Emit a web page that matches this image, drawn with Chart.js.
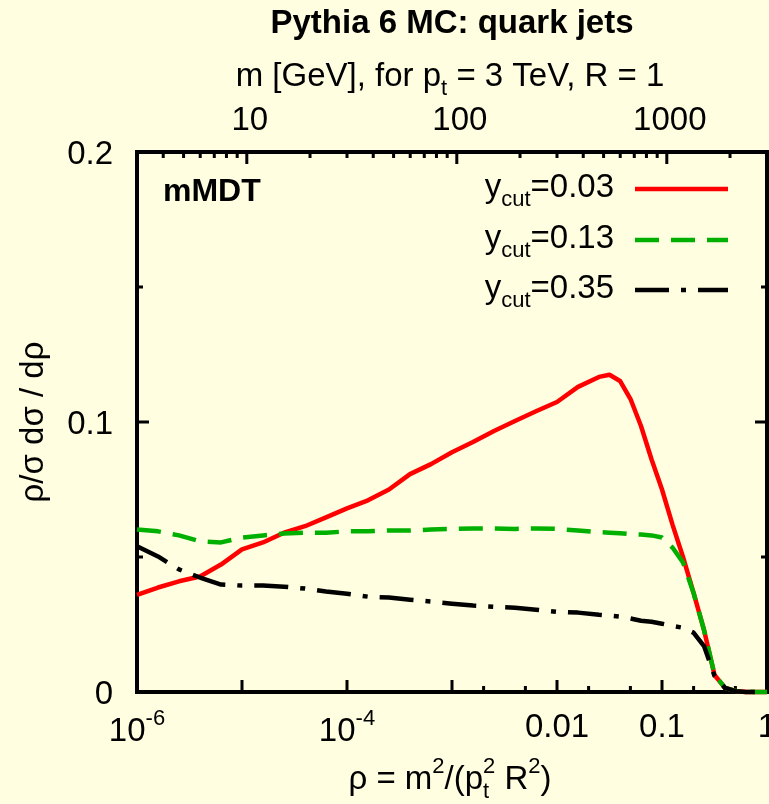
<!DOCTYPE html>
<html>
<head>
<meta charset="utf-8">
<script src="https://cdn.jsdelivr.net/npm/chart.js@4.4.0/dist/chart.umd.min.js"></script>
<style>
  html, body { margin: 0; padding: 0; background: #fffee0; }
  canvas { display: block; }
</style>
</head>
<body>
<canvas id="myChart" width="769" height="804"></canvas>
<script>
// log10(rho) sampling points
const logRho = [-6, -5.8, -5.6, -5.4, -5.2, -5, -4.8, -4.6, -4.4, -4.2, -4, -3.8, -3.6, -3.4, -3.2, -3,
  -2.8, -2.6, -2.4, -2.2, -2, -1.8, -1.6, -1.5, -1.4, -1.3, -1.2, -1.1, -1, -0.9, -0.8, -0.7, -0.6,
  -0.5, -0.4, -0.3, -0.2, -0.1, 0];

// rho/sigma dsigma/drho for each y_cut
const ycut003 = [0.036, 0.0387, 0.041, 0.0428, 0.0472, 0.0528, 0.0554, 0.059, 0.0614, 0.0647, 0.068,
  0.071, 0.075, 0.0807, 0.0844, 0.0888, 0.0926, 0.0967, 0.1004, 0.104, 0.1074, 0.113, 0.1167, 0.1175,
  0.1152, 0.1085, 0.0985, 0.0862, 0.075, 0.062, 0.05, 0.0368, 0.023, 0.0063, 0.0015, 0.0004, 0, 0, 0];
const ycut013 = [0.0602, 0.0595, 0.058, 0.0558, 0.0554, 0.0572, 0.058, 0.0587, 0.059, 0.059, 0.0595,
  0.0595, 0.0598, 0.0598, 0.0602, 0.0604, 0.0606, 0.0606, 0.0604, 0.0606, 0.0604, 0.0598, 0.0592, 0.059,
  0.0588, 0.0585, 0.0583, 0.058, 0.0572, 0.0535, 0.048, 0.0368, 0.023, 0.0065, 0.0015, 0.0004, 0.0001, 0, 0];
const ycut035 = [0.054, 0.0502, 0.0454, 0.0424, 0.0398, 0.0394, 0.0394, 0.039, 0.0383, 0.0372, 0.0364,
  0.0353, 0.035, 0.0342, 0.0335, 0.0327, 0.032, 0.0316, 0.0312, 0.0305, 0.0297, 0.0294, 0.0286, 0.0283,
  0.0279, 0.0272, 0.0264, 0.026, 0.0253, 0.0245, 0.0238, 0.022, 0.017, 0.006, 0.0015, 0.0003, 0, 0, 0];

const ycutLabels = ['0.03', '0.13', '0.35'];

// tick values
const rhoMajor = [1e-6, 1e-5, 1e-4, 1e-3, 1e-2, 1e-1, 1];
const rhoMinor = [2e-3, 5e-3, 2e-2, 5e-2, 0.2, 0.5];
const rhoLabels = [[1e-6, '10', '-6'], [1e-4, '10', '-4'], [0.01, '0.01'], [0.1, '0.1'], [1, '1']];
const massMajor = [10, 100, 1000];
const massMinor = [4, 5, 6, 7, 8, 9, 20, 30, 40, 50, 60, 70, 80, 90, 200, 300, 400, 500, 600, 700, 800, 900, 2000];
const yMajor = [0, 0.1, 0.2];
const yMinor = [0.05, 0.15];

const BG = '#fffee0';
const FONT = '"Liberation Sans", Arial, sans-serif';
const FS = 33;

function toPoints(vals) {
  return vals.map((v, i) => ({ x: Math.pow(10, logRho[i]), y: v }));
}

// draw text made of pieces with sub/superscripts
function richText(ctx, parts, x, y, size, align, bold) {
  const w = bold ? 'bold ' : '';
  const big = w + size + 'px ' + FONT;
  const small = w + Math.round(size * 0.68) + 'px ' + FONT;
  let total = 0;
  const widths = parts.map(p => {
    let pw = 0;
    if (p.t) { ctx.font = big; pw = ctx.measureText(p.t).width; }
    else {
      ctx.font = small;
      pw = Math.max(p.sub ? ctx.measureText(p.sub).width : 0, p.sup ? ctx.measureText(p.sup).width : 0);
    }
    total += pw;
    return pw;
  });
  let cx = x;
  if (align === 'center') cx = x - total / 2;
  if (align === 'right') cx = x - total;
  ctx.textAlign = 'left';
  ctx.textBaseline = 'alphabetic';
  parts.forEach((p, i) => {
    if (p.t) { ctx.font = big; ctx.fillText(p.t, cx, y); }
    else {
      ctx.font = small;
      if (p.sub) ctx.fillText(p.sub, cx, y + size * 0.26);
      if (p.sup) ctx.fillText(p.sup, cx, y - size * 0.5);
    }
    cx += widths[i];
  });
}

const frame = {
  id: 'frame',
  beforeDraw(chart) {
    const ctx = chart.ctx;
    ctx.save();
    ctx.fillStyle = BG;
    ctx.fillRect(0, 0, chart.width, chart.height);
    ctx.restore();
  },
  beforeDatasetsDraw(chart) {
    const { ctx, chartArea: a, scales } = chart;
    const x = scales.x, xm = scales.xm, y = scales.y;
    ctx.save();
    ctx.strokeStyle = '#000';
    ctx.lineWidth = 3;
    ctx.lineCap = 'butt';
    ctx.beginPath();
    rhoMajor.forEach(v => { const p = x.getPixelForValue(v); ctx.moveTo(p, a.bottom); ctx.lineTo(p, a.bottom - 12); });
    rhoMinor.forEach(v => { const p = x.getPixelForValue(v); ctx.moveTo(p, a.bottom); ctx.lineTo(p, a.bottom - 6); });
    massMajor.forEach(v => { const p = xm.getPixelForValue(v); ctx.moveTo(p, a.top); ctx.lineTo(p, a.top + 12); });
    massMinor.forEach(v => { const p = xm.getPixelForValue(v); ctx.moveTo(p, a.top); ctx.lineTo(p, a.top + 6); });
    yMajor.forEach(v => {
      const p = y.getPixelForValue(v);
      ctx.moveTo(a.left, p); ctx.lineTo(a.left + 12, p);
      ctx.moveTo(a.right, p); ctx.lineTo(a.right - 12, p);
    });
    yMinor.forEach(v => {
      const p = y.getPixelForValue(v);
      ctx.moveTo(a.left, p); ctx.lineTo(a.left + 6, p);
      ctx.moveTo(a.right, p); ctx.lineTo(a.right - 6, p);
    });
    ctx.stroke();
    ctx.lineWidth = 4;
    ctx.strokeRect(a.left, a.top, a.right - a.left, a.bottom - a.top);

    // tick labels
    ctx.fillStyle = '#000';
    rhoLabels.forEach(l => {
      const p = x.getPixelForValue(l[0]);
      if (l.length === 3) richText(ctx, [{ t: l[1] }, { sup: l[2] }], p, a.bottom + 49, FS, 'center');
      else richText(ctx, [{ t: l[1] }], p, a.bottom + 45, FS, 'center');
    });
    massMajor.forEach(v => {
      richText(ctx, [{ t: String(v) }], xm.getPixelForValue(v) + 3, a.top - 22, FS, 'center');
    });
    yMajor.forEach(v => {
      richText(ctx, [{ t: String(v) }], a.left - 24, y.getPixelForValue(v) + 12, FS, 'right');
    });

    // titles
    richText(ctx, [{ t: 'Pythia 6 MC: quark jets' }], 452, 33, FS, 'center', true);
    richText(ctx, [{ t: 'm [GeV], for p' }, { sub: 't' }, { t: ' = 3 TeV, R = 1' }], 450, 86, FS, 'center');
    richText(ctx, [{ t: 'ρ = m' }, { sup: '2' }, { t: '/(p' }, { sub: 't', sup: '2' }, { t: ' R' }, { sup: '2' }, { t: ')' }],
      450, 789, FS, 'center');
    ctx.save();
    ctx.translate(43, 422);
    ctx.rotate(-Math.PI / 2);
    richText(ctx, [{ t: 'ρ/σ dσ / dρ' }], 0, 0, FS, 'center');
    ctx.restore();
    ctx.restore();
  },
  afterDatasetsDraw(chart) {
    const ctx = chart.ctx;
    ctx.save();
    ctx.fillStyle = '#000';
    richText(ctx, [{ t: 'mMDT' }], 163, 201, 32, 'left', true);
    const rows = [189, 240, 290];
    chart.data.datasets.forEach((ds, i) => {
      const yy = rows[i];
      richText(ctx, [{ t: 'y' }, { sub: 'cut' }, { t: '=' + ycutLabels[i] }], 614, yy + 8, FS, 'right');
      ctx.strokeStyle = ds.borderColor;
      ctx.lineWidth = ds.borderWidth;
      ctx.lineCap = 'butt';
      ctx.setLineDash(ds.borderDash || []);
      ctx.beginPath();
      ctx.moveTo(635, yy);
      ctx.lineTo(728, yy);
      ctx.stroke();
    });
    ctx.restore();
  }
};

new Chart(document.getElementById('myChart'), {
  type: 'line',
  data: {
    datasets: [
      { data: toPoints(ycut003), borderColor: '#ff0000', borderWidth: 4.5, order: 3 },
      { data: toPoints(ycut013), borderColor: '#00b000', borderWidth: 4.5, borderDash: [24, 12], order: 2 },
      { data: toPoints(ycut035), borderColor: '#000000', borderWidth: 4.5, borderDash: [34, 12, 5, 12], order: 1 }
    ]
  },
  options: {
    responsive: false,
    animation: false,
    devicePixelRatio: 1,
    clip: false,
    layout: { padding: { left: 0, right: 2, top: 0, bottom: 0 } },
    elements: { point: { radius: 0 }, line: { tension: 0, borderCapStyle: 'butt', borderJoinStyle: 'round' } },
    plugins: { legend: { display: false }, tooltip: { enabled: false } },
    scales: {
      x: {
        type: 'logarithmic', position: 'bottom', min: 1e-6, max: 1,
        grid: { display: false }, border: { display: false }, ticks: { display: false },
        afterFit(s) { s.height = 112; }
      },
      xm: {
        type: 'logarithmic', position: 'top', min: 3, max: 3000,
        grid: { display: false }, border: { display: false }, ticks: { display: false },
        afterFit(s) { s.height = 152; }
      },
      y: {
        type: 'linear', min: 0, max: 0.2,
        grid: { display: false }, border: { display: false }, ticks: { display: false },
        afterFit(s) { s.width = 137; }
      }
    }
  },
  plugins: [frame]
});
</script>
</body>
</html>
